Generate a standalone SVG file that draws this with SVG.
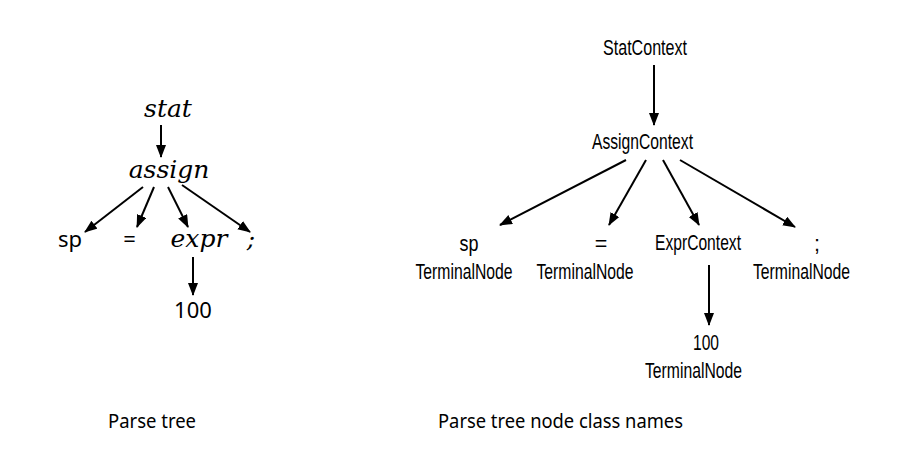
<svg xmlns="http://www.w3.org/2000/svg" width="918" height="456" viewBox="0 0 918 456">
<style>
.it{font-family:"DejaVu Serif",serif;font-style:italic;font-size:25px;fill:#000;text-anchor:middle}
.sans{font-family:"Noto Sans","Liberation Sans",sans-serif;font-size:22px;fill:#000;text-anchor:middle}
.cap{font-family:"Noto Sans","Liberation Sans",sans-serif;font-size:20.5px;fill:#000}
.nar{font-family:"Liberation Sans",Arial,sans-serif;font-size:21.5px;fill:#000;text-anchor:middle}
.edge{stroke:#000;stroke-width:2;fill:none;marker-end:url(#ah)}
</style>
<defs>
<marker id="ah" markerUnits="userSpaceOnUse" markerWidth="13" markerHeight="11" refX="12" refY="5" orient="auto">
<path d="M0,0 L13,5 L0,10 z" fill="#000"/>
</marker>
</defs>
<rect width="918" height="456" fill="#fff"/>
<g id="connectors">
<line class="edge" x1="161" y1="125" x2="161" y2="157"/>
<line class="edge" x1="143" y1="187" x2="85" y2="232"/>
<line class="edge" x1="154" y1="187" x2="137" y2="227"/>
<line class="edge" x1="168" y1="187" x2="188" y2="227"/>
<line class="edge" x1="182" y1="185" x2="250" y2="232"/>
<line class="edge" x1="193" y1="257" x2="193" y2="295"/>
<line class="edge" x1="654" y1="65" x2="654" y2="125"/>
<line class="edge" x1="626" y1="160" x2="500" y2="225"/>
<line class="edge" x1="646" y1="160" x2="609" y2="225"/>
<line class="edge" x1="663" y1="160" x2="699" y2="225"/>
<line class="edge" x1="680" y1="160" x2="795" y2="227"/>
<line class="edge" x1="709" y1="265" x2="709" y2="325"/>
</g>
<g id="stat"><text class="it" x="168" y="117">stat</text></g>
<g id="assign"><text class="it" x="169" y="178">assign</text></g>
<g id="sp"><text class="sans" x="70" y="247">sp</text></g>
<g id="eq"><text class="sans" x="129.5" y="247">=</text></g>
<g id="expr"><text class="it" x="199" y="247">expr</text></g>
<g id="semi"><text class="it" x="251" y="247">;</text></g>
<g id="n100"><text class="sans" x="193" y="318">100</text></g>
<g id="cap1"><text class="cap" x="108" y="428" textLength="88" lengthAdjust="spacingAndGlyphs">Parse tree</text></g>
<g id="cap2"><text class="cap" x="438" y="428" textLength="245" lengthAdjust="spacingAndGlyphs">Parse tree node class names</text></g>
<g id="StatContext"><text class="nar" x="645" y="55" textLength="84" lengthAdjust="spacingAndGlyphs">StatContext</text></g>
<g id="AssignContext"><text class="nar" x="642.5" y="149" textLength="101" lengthAdjust="spacingAndGlyphs">AssignContext</text></g>
<g id="spNode"><text class="nar" x="469" y="251" textLength="19" lengthAdjust="spacingAndGlyphs">sp</text><text class="nar" x="464" y="279" textLength="97" lengthAdjust="spacingAndGlyphs">TerminalNode</text></g>
<g id="eqNode"><text class="nar" x="601" y="251">=</text><text class="nar" x="585" y="279" textLength="97" lengthAdjust="spacingAndGlyphs">TerminalNode</text></g>
<g id="ExprContext"><text class="nar" x="698" y="250" textLength="86" lengthAdjust="spacingAndGlyphs">ExprContext</text></g>
<g id="semiNode"><text class="nar" x="817" y="251">;</text><text class="nar" x="801.5" y="279" textLength="97" lengthAdjust="spacingAndGlyphs">TerminalNode</text></g>
<g id="n100Node"><text class="nar" x="706" y="350" textLength="26" lengthAdjust="spacingAndGlyphs">100</text><text class="nar" x="693.5" y="378" textLength="97" lengthAdjust="spacingAndGlyphs">TerminalNode</text></g>
</svg>
